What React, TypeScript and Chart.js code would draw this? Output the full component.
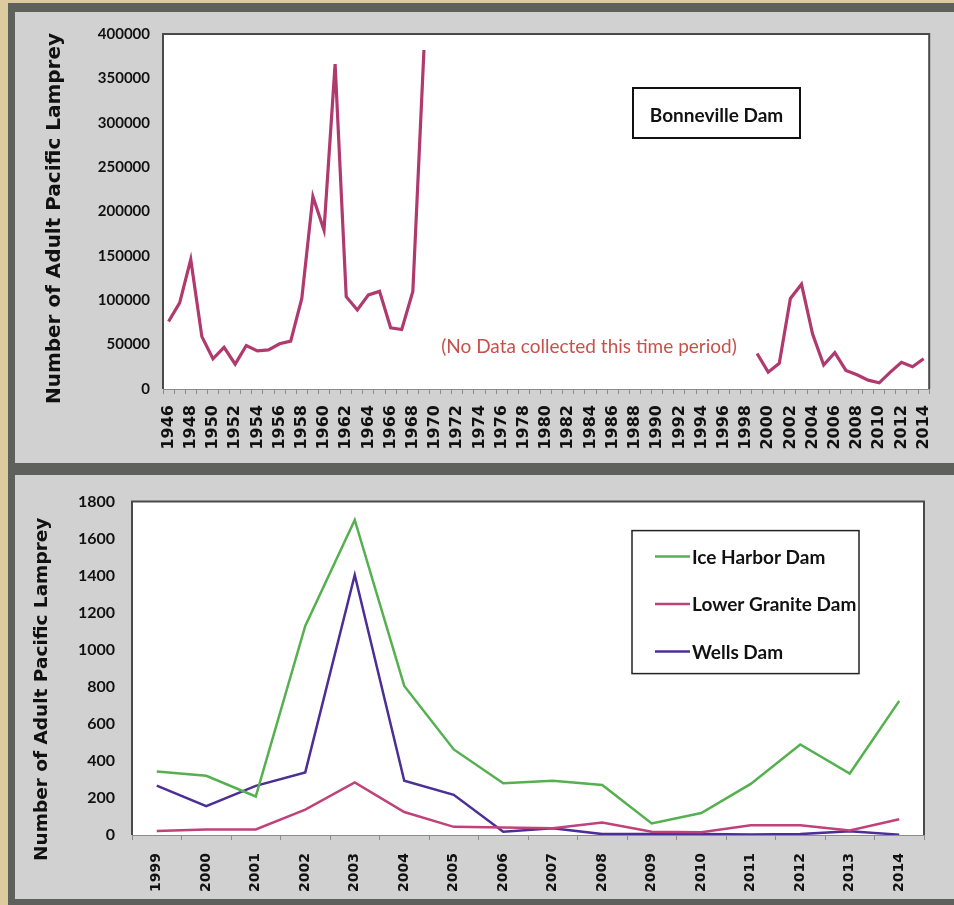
import React, { useEffect, useRef } from 'react';
import { Chart, registerables } from 'chart.js';

Chart.register(...registerables);

// ---------- DATA ----------
const topYears = [
  '1946', '1947', '1948', '1949', '1950', '1951', '1952', '1953', '1954', '1955',
  '1956', '1957', '1958', '1959', '1960', '1961', '1962', '1963', '1964', '1965',
  '1966', '1967', '1968', '1969', '1970', '1971', '1972', '1973', '1974', '1975',
  '1976', '1977', '1978', '1979', '1980', '1981', '1982', '1983', '1984', '1985',
  '1986', '1987', '1988', '1989', '1990', '1991', '1992', '1993', '1994', '1995',
  '1996', '1997', '1998', '1999', '2000', '2001', '2002', '2003', '2004', '2005',
  '2006', '2007', '2008', '2009', '2010', '2011', '2012', '2013', '2014',
];

const bonnevilleCounts: (number | null)[] = [
  76000, 97000, 146000, 59000, 34000, 47000, 28000, 49000, 43000, 44000,
  51000, 54000, 102000, 217000, 179000, 366000, 104000, 89000, 106000, 110000,
  69000, 67000, 110000, 382000, null, null, null, null, null, null,
  null, null, null, null, null, null, null, null, null, null,
  null, null, null, null, null, null, null, null, null, null,
  null, null, null, 40000, 19000, 29000, 102000, 118000, 62000, 27000,
  41000, 21000, 16000, 10000, 7000, 19000, 30000, 25000, 34000,
];

const bottomYears = [
  '1999', '2000', '2001', '2002', '2003', '2004', '2005', '2006',
  '2007', '2008', '2009', '2010', '2011', '2012', '2013', '2014',
];
const iceHarbor = [343, 320, 208, 1129, 1701, 805, 462, 279, 293, 270, 62, 119, 276, 489, 332, 724];
const lowerGranite = [21, 30, 30, 137, 284, 124, 44, 40, 36, 68, 18, 15, 53, 53, 25, 85];
const wells = [267, 156, 265, 338, 1404, 293, 217, 18, 36, 5, 5, 5, 3, 5, 20, 2];

const topYMax = 400000;
const topYStep = 50000;
const bottomYMax = 1800;
const bottomYStep = 200;

const yTitle = 'Number of Adult Pacific Lamprey';
const topBoxLabel = 'Bonneville Dam';
const noDataLabel = '(No Data collected this time period)';
const seriesNames = ['Ice Harbor Dam', 'Lower Granite Dam', 'Wells Dam'];

// ---------- STYLE ----------
const NARROW = 'Lato, "Liberation Sans Narrow", sans-serif';
const WIDE = '"DejaVu Sans", Verdana, sans-serif';
const AXIS_GRAY = '#8c8c8c';
const BONNEVILLE_COLOR = '#b03a6e';
const ICE_COLOR = '#55b04f';
const GRANITE_COLOR = '#c0427a';
const WELLS_COLOR = '#4b2e96';

function plotFrame(chart: any) {
  const { ctx, chartArea: a } = chart;
  ctx.save();
  ctx.strokeStyle = '#4a4a4a';
  ctx.lineWidth = 2;
  ctx.beginPath();
  ctx.moveTo(a.left, a.bottom);
  ctx.lineTo(a.left, a.top);
  ctx.lineTo(a.right, a.top);
  ctx.lineTo(a.right, a.bottom);
  ctx.stroke();
  ctx.restore();
}

function drawYTitle(ctx: CanvasRenderingContext2D, x: number, y: number, size: number) {
  ctx.save();
  ctx.translate(x, y);
  ctx.rotate(-Math.PI / 2);
  ctx.font = `bold ${size}px ${WIDE}`;
  ctx.fillStyle = '#111';
  ctx.textAlign = 'center';
  ctx.textBaseline = 'middle';
  ctx.fillText(yTitle, 0, 0);
  ctx.restore();
}

const whiteArea = {
  id: 'whiteArea',
  beforeDraw(chart: any) {
    const { ctx, chartArea: a } = chart;
    ctx.save();
    ctx.fillStyle = '#ffffff';
    ctx.fillRect(a.left, a.top, a.right - a.left, a.bottom - a.top);
    ctx.restore();
  },
};

const topDecor = {
  id: 'topDecor',
  afterDraw(chart: any) {
    const { ctx, chartArea: a } = chart;
    plotFrame(chart);
    drawYTitle(ctx, 40, (a.top + a.bottom) / 2 + 7, 20);
    // annotation box
    const bx = a.left + 470;
    const by = a.top + 54;
    const bw = 167;
    const bh = 50;
    ctx.save();
    ctx.fillStyle = '#fff';
    ctx.fillRect(bx, by, bw, bh);
    ctx.strokeStyle = '#111';
    ctx.lineWidth = 2;
    ctx.strokeRect(bx, by, bw, bh);
    ctx.font = `bold 19px ${NARROW}`;
    ctx.fillStyle = '#111';
    ctx.textAlign = 'center';
    ctx.textBaseline = 'middle';
    ctx.fillText(topBoxLabel, bx + bw / 2, by + bh / 2 + 3);
    // no data label
    ctx.font = `19px ${NARROW}`;
    ctx.fillStyle = '#c8504a';
    ctx.fillText(noDataLabel, a.left + 426, a.top + 313);
    ctx.restore();
  },
};

const bottomDecor = {
  id: 'bottomDecor',
  afterDraw(chart: any) {
    const { ctx, chartArea: a } = chart;
    plotFrame(chart);
    drawYTitle(ctx, 27, (a.top + a.bottom) / 2 + 21, 18.5);
    // legend
    const lx = a.left + 500;
    const ly = a.top + 29;
    const lw = 227;
    const lh = 143;
    ctx.save();
    ctx.fillStyle = '#fff';
    ctx.fillRect(lx, ly, lw, lh);
    ctx.strokeStyle = '#222';
    ctx.lineWidth = 1.5;
    ctx.strokeRect(lx, ly, lw, lh);
    const colors = [ICE_COLOR, GRANITE_COLOR, WELLS_COLOR];
    ctx.font = `bold 19px ${NARROW}`;
    ctx.textAlign = 'left';
    ctx.textBaseline = 'middle';
    seriesNames.forEach((name, i) => {
      const yy = ly + 26 + i * 47.5;
      ctx.strokeStyle = colors[i];
      ctx.lineWidth = 2.5;
      ctx.beginPath();
      ctx.moveTo(lx + 23, yy);
      ctx.lineTo(lx + 58, yy);
      ctx.stroke();
      ctx.fillStyle = '#111';
      ctx.fillText(name, lx + 60, yy + 1);
    });
    ctx.restore();
  },
};

const plainNumber = (v: any) => String(v);

function TopChart() {
  const ref = useRef<HTMLCanvasElement | null>(null);
  useEffect(() => {
    if (!ref.current) return;
    const chart = new Chart(ref.current, {
      type: 'line',
      data: {
        labels: topYears,
        datasets: [
          {
            label: topBoxLabel,
            data: bonnevilleCounts,
            borderColor: BONNEVILLE_COLOR,
            borderWidth: 3.2,
            pointRadius: 0,
            tension: 0,
            spanGaps: false,
          },
        ],
      },
      options: {
        animation: false,
        responsive: false,
        devicePixelRatio: 1,
        layout: { padding: { left: 0, top: 19, right: 22, bottom: 0 } },
        plugins: { legend: { display: false }, tooltip: { enabled: false } },
        scales: {
          x: {
            offset: true,
            grid: { display: true, drawOnChartArea: false, drawTicks: true, tickLength: 5, color: AXIS_GRAY, offset: true },
            border: { display: true, color: AXIS_GRAY, width: 1 },
            ticks: {
              autoSkip: false,
              minRotation: 90,
              maxRotation: 90,
              padding: 11,
              color: '#111',
              font: { family: WIDE, weight: 'bold', size: 16 },
              callback: (_v: any, i: number) => (i % 2 === 0 ? topYears[i] : ''),
            },
            afterFit: (s: any) => {
              s.height = 74;
            },
          },
          y: {
            min: 0,
            max: topYMax,
            grid: { display: false, drawTicks: false },
            border: { display: true, color: AXIS_GRAY, width: 1 },
            ticks: {
              stepSize: topYStep,
              padding: 13,
              color: '#111',
              font: { family: NARROW, weight: 'bold', size: 15 },
              callback: plainNumber,
            },
            afterFit: (s: any) => {
              s.width = 148;
            },
          },
        },
      } as any,
      plugins: [whiteArea, topDecor],
    });
    return () => chart.destroy();
  }, []);
  return <canvas ref={ref} width={939} height={451} style={{ display: 'block', width: 939, height: 451 }} />;
}

function BottomChart() {
  const ref = useRef<HTMLCanvasElement | null>(null);
  useEffect(() => {
    if (!ref.current) return;
    const mk = (label: string, data: number[], color: string) => ({
      label,
      data,
      borderColor: color,
      borderWidth: 2.5,
      pointRadius: 0,
      tension: 0,
    });
    const chart = new Chart(ref.current, {
      type: 'line',
      data: {
        labels: bottomYears,
        datasets: [
          mk(seriesNames[0], iceHarbor, ICE_COLOR),
          mk(seriesNames[1], lowerGranite, GRANITE_COLOR),
          mk(seriesNames[2], wells, WELLS_COLOR),
        ],
      },
      options: {
        animation: false,
        responsive: false,
        devicePixelRatio: 1,
        layout: { padding: { left: 0, top: 22, right: 30, bottom: 0 } },
        plugins: { legend: { display: false }, tooltip: { enabled: false } },
        scales: {
          x: {
            offset: true,
            grid: { display: true, drawOnChartArea: false, drawTicks: true, tickLength: 5, color: AXIS_GRAY, offset: true },
            border: { display: true, color: AXIS_GRAY, width: 1 },
            ticks: {
              autoSkip: false,
              minRotation: 90,
              maxRotation: 90,
              padding: 13,
              color: '#111',
              font: { family: WIDE, weight: 'bold', size: 14 },
            },
            afterFit: (s: any) => {
              s.height = 64;
            },
          },
          y: {
            min: 0,
            max: bottomYMax,
            grid: { display: false, drawTicks: false },
            border: { display: true, color: AXIS_GRAY, width: 1 },
            ticks: {
              stepSize: bottomYStep,
              padding: 17,
              color: '#111',
              font: { family: NARROW, weight: 'bold', size: 16 },
              callback: plainNumber,
            },
            afterFit: (s: any) => {
              s.width = 117;
            },
          },
        },
      } as any,
      plugins: [whiteArea, bottomDecor],
    });
    return () => chart.destroy();
  }, []);
  return <canvas ref={ref} width={939} height={424} style={{ display: 'block', width: 939, height: 424 }} />;
}

export default function App() {
  return (
    <div style={{ position: 'fixed', left: 0, top: 0, width: 954, height: 905, background: '#dccb9f', overflow: 'hidden' }}>
      <div style={{ position: 'absolute', left: 8, top: 3, width: 946, height: 902, background: '#5d605b' }} />
      <div style={{ position: 'absolute', left: 15, top: 12, width: 939, height: 451, background: '#d1d1d1' }}>
        <TopChart />
      </div>
      <div style={{ position: 'absolute', left: 15, top: 475, width: 939, height: 424, background: '#d1d1d1' }}>
        <BottomChart />
      </div>
    </div>
  );
}
